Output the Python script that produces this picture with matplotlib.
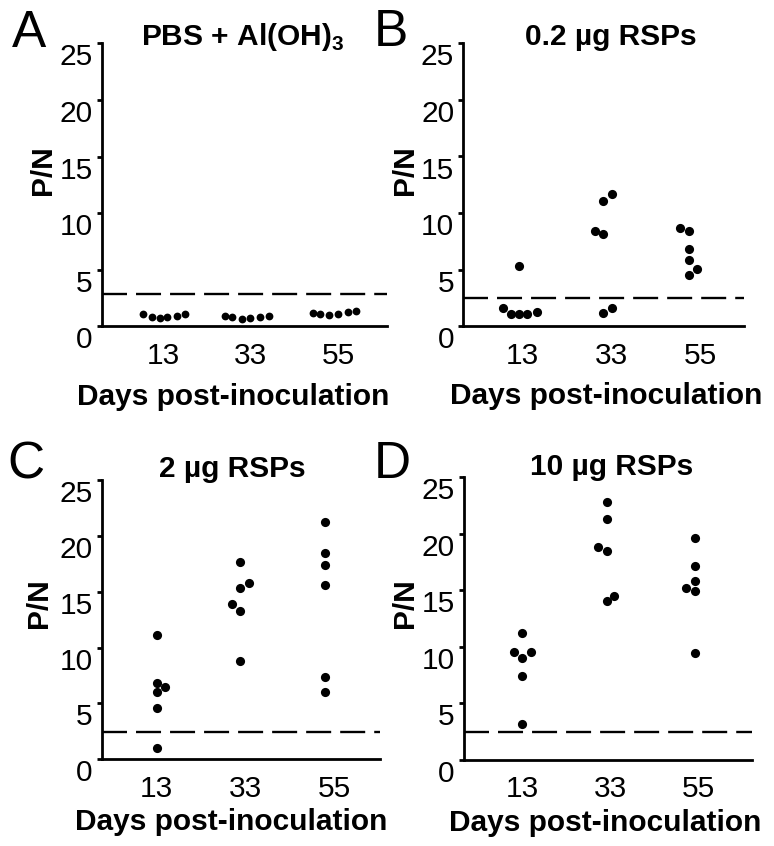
import matplotlib
matplotlib.use("Agg")
import matplotlib.pyplot as plt

plt.rcParams['font.family'] = ['Liberation Sans', 'DejaVu Sans']
plt.rcParams['mathtext.fontset'] = 'custom'
plt.rcParams['mathtext.rm'] = 'Liberation Sans:bold'
plt.rcParams['mathtext.bf'] = 'Liberation Sans:bold'
plt.rcParams['lines.scale_dashes'] = False

# ---------------- data ----------------
categories = ["13", "33", "55"]
y_ticks = [0, 5, 10, 15, 20, 25]
panel_letters = ["A", "B", "C", "D"]
panel_titles = [r"PBS + Al(OH)$_\mathrm{3}$", "0.2 µg RSPs", "2 µg RSPs", "10 µg RSPs"]
x_label = "Days post-inoculation"
y_label = "P/N"

# P/N values per day (13, 33, 55)
A_values = [[1.10, 0.86, 0.72, 0.81, 0.95, 1.08],
            [0.93, 0.86, 0.63, 0.78, 0.86, 0.93],
            [1.17, 1.08, 1.02, 1.08, 1.31, 1.40]]
B_values = [[1.62, 1.06, 1.06, 1.06, 1.27, 5.33],
            [11.08, 11.73, 8.43, 8.19, 1.18, 1.65],
            [8.64, 8.43, 6.80, 5.83, 4.51, 5.04]]
C_values = [[11.13, 6.86, 6.50, 6.03, 4.59, 0.98],
            [17.63, 15.31, 15.76, 13.90, 13.25, 8.80],
            [21.27, 18.44, 17.37, 15.63, 7.34, 6.03]]
D_values = [[11.20, 9.58, 9.52, 8.99, 7.43, 3.18],
            [22.84, 21.28, 18.81, 18.48, 14.08, 14.50],
            [19.60, 17.18, 15.83, 15.18, 14.94, 9.43]]

# horizontal scatter of the dots around each day (category units)
A_jitter = [[-0.23, -0.13, -0.03, 0.05, 0.16, 0.25],
            [-0.29, -0.21, -0.10, 0.00, 0.11, 0.21],
            [-0.29, -0.21, -0.10, 0.00, 0.12, 0.21]]
B_jitter = [[-0.22, -0.12, -0.03, 0.06, 0.17, -0.03],
            [-0.09, 0.01, -0.18, -0.09, -0.09, 0.01],
            [-0.23, -0.13, -0.13, -0.13, -0.13, -0.04]]
C_jitter = [[0.00, 0.00, 0.09, 0.00, 0.00, 0.00],
            [-0.06, -0.06, 0.04, -0.15, -0.06, -0.06],
            [-0.11, -0.11, -0.11, -0.11, -0.11, -0.11]]
D_jitter = [[0.00, -0.09, 0.10, 0.00, 0.00, 0.00],
            [-0.04, -0.04, -0.14, -0.04, -0.04, 0.05],
            [-0.04, -0.04, -0.04, -0.14, -0.04, -0.04]]

# positivity cut-off (dashed line)
cutoffs = [2.83, 2.54, 2.42, 2.45]

# ---------------- layout ----------------
W, H = 774, 846
fig = plt.figure(figsize=(W / 100, H / 100), dpi=100)


def rect(l, t, r, b):
    return [l / W, 1 - b / H, (r - l) / W, (b - t) / H]


axes_px = [(101.7, 43.2, 387.0, 326.5),
           (463.3, 43.3, 744.0, 326.3),
           (101.7, 480.0, 380.0, 759.3),
           (464.0, 477.3, 751.7, 760.0)]
xlims = [(-0.70, 2.56), (-0.66, 2.49), (-0.62, 2.51), (-0.66, 2.61)]
title_pos = [(0.495, 0.993), (0.526, 0.993), (0.468, 1.012), (0.514, 1.008)]
xlabel_pos = [(0.46, -0.198), (0.51, -0.198), (0.465, -0.174), (0.492, -0.174)]
ylabel_pos = [(-0.207, 0.552), (-0.208, 0.552), (-0.225, 0.56), (-0.205, 0.555)]
letter_px = [(12, 47), (374, 46), (7, 478), (374, 478)]
dot_size = [5.6, 6.6, 6.6, 6.6]

values_all = [A_values, B_values, C_values, D_values]
jitter_all = [A_jitter, B_jitter, C_jitter, D_jitter]

for i in range(4):
    ax = fig.add_axes(rect(*axes_px[i]))
    vals = values_all[i]
    jit = jitter_all[i]
    for k, day_vals in enumerate(vals):
        xs = [k + j for j in jit[k]]
        ax.plot(xs, day_vals, 'o', color='black', ms=dot_size[i], mew=0, clip_on=False)
    ax.axhline(cutoffs[i], color='black', lw=1.7, linestyle=(0, (18, 6.5)))

    ax.set_xlim(*xlims[i])
    ax.set_ylim(0, 25)
    ax.set_xticks(range(len(categories)))
    ax.set_xticklabels(categories)
    ax.set_yticks(y_ticks)
    ax.set_yticklabels([str(t) for t in y_ticks])
    for s in ['top', 'right']:
        ax.spines[s].set_visible(False)
    for s in ['left', 'bottom']:
        ax.spines[s].set_linewidth(2.0)
    ax.tick_params(axis='y', direction='out', length=3.6, width=2.0, pad=3, labelsize=21.5)
    ax.tick_params(axis='x', length=0, pad=11, labelsize=21.5)
    for t in ax.get_yticklabels():
        t.set_verticalalignment('top')

    ax.set_title(panel_titles[i], fontsize=21.5, fontweight='bold',
                 x=title_pos[i][0], y=title_pos[i][1], pad=0, va='baseline')
    ax.set_xlabel(x_label, fontsize=21.5, fontweight='bold', va='top')
    ax.xaxis.set_label_coords(*xlabel_pos[i])
    ax.set_ylabel(y_label, fontsize=21.5, fontweight='bold', va='center')
    ax.yaxis.set_label_coords(*ylabel_pos[i])

    lx, ly = letter_px[i]
    fig.text(lx / W, 1 - ly / H, panel_letters[i], fontsize=37,
             ha='left', va='baseline')

fig.savefig("out.png", dpi=100, facecolor='white')
